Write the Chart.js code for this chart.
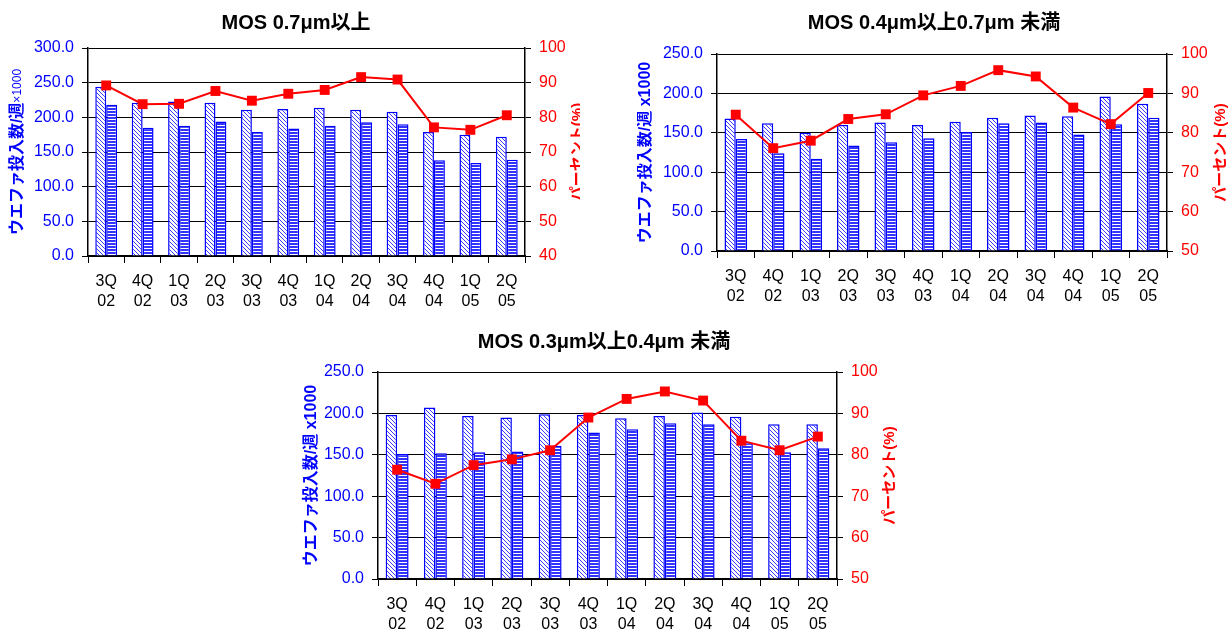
<!DOCTYPE html>
<html>
<head>
<meta charset="utf-8">
<script src="https://cdn.jsdelivr.net/npm/chart.js@4.4.1/dist/chart.umd.min.js"></script>
<style>
  body { margin: 0; background: #fff; }
  .box { position: absolute; overflow: hidden; }
  canvas { display: block; }
</style>
</head>
<body>
<div class="box" style="left:0;top:0;width:580px;height:310px"><canvas id="c07" width="592" height="310"></canvas></div>
<div class="box" style="left:637px;top:0;width:594px;height:310px"><canvas id="c04" width="594" height="310"></canvas></div>
<div class="box" style="left:300px;top:320px;width:608px;height:314px"><canvas id="c03" width="608" height="314"></canvas></div>
<script>
const quarters = [['3Q', '02'], ['4Q', '02'], ['1Q', '03'], ['2Q', '03'], ['3Q', '03'], ['4Q', '03'],
  ['1Q', '04'], ['2Q', '04'], ['3Q', '04'], ['4Q', '04'], ['1Q', '05'], ['2Q', '05']];

// MOS 0.7um and above
const capacity07 = [244, 221, 223, 221, 211, 212, 214, 211, 208, 179, 175, 172];
const starts07 = [218, 185, 188, 194, 179, 184, 188, 193, 190, 138, 134, 139];
const util07 = [89.2, 83.8, 83.9, 87.6, 84.8, 86.8, 87.9, 91.6, 90.9, 77.1, 76.4, 80.6];

// MOS 0.4um - 0.7um
const capacity04 = [168, 162, 150, 160, 163, 160, 164, 169, 172, 171, 196, 187];
const starts04 = [142, 124, 117, 134, 138, 143, 151, 162, 163, 148, 161, 169];
const util04 = [84.6, 76.1, 78.0, 83.5, 84.7, 89.5, 91.9, 95.9, 94.3, 86.4, 82.2, 90.1];

// MOS 0.3um - 0.4um
const capacity03 = [198, 207, 197, 195, 199, 198, 194, 197, 201, 196, 187, 187];
const starts03 = [151, 152, 153, 154, 161, 177, 181, 188, 187, 164, 153, 158];
const util03 = [76.4, 73.0, 77.5, 78.9, 81.1, 89.0, 93.5, 95.3, 93.1, 83.4, 81.1, 84.4];

const FONT = "'Liberation Sans', Arial, 'Noto Sans CJK JP', sans-serif";
const BLUE = '#0000ff';
const RED = '#ff0000';

function diagPattern() {
  const c = document.createElement('canvas');
  c.width = 4; c.height = 4;
  const g = c.getContext('2d');
  g.fillStyle = '#fff';
  g.fillRect(0, 0, 4, 4);
  g.strokeStyle = '#3c3cff';
  g.lineWidth = 1;
  g.beginPath();
  g.moveTo(-1, -1); g.lineTo(5, 5);
  g.moveTo(-1, 3); g.lineTo(1, 5);
  g.moveTo(3, -1); g.lineTo(5, 1);
  g.stroke();
  return g.createPattern(c, 'repeat');
}

function stripePattern() {
  const c = document.createElement('canvas');
  c.width = 4; c.height = 3;
  const g = c.getContext('2d');
  g.fillStyle = '#fff';
  g.fillRect(0, 0, 4, 3);
  g.fillStyle = '#3333ff';
  g.fillRect(0, 0, 4, 2);
  return g.createPattern(c, 'repeat');
}

// draws the rotated axis titles (both read bottom to top)
const axisTitles = {
  id: 'axisTitles',
  afterDraw(chart, args, opts) {
    const ctx = chart.ctx;
    const a = chart.chartArea;
    const yc = (a.top + a.bottom) / 2;
    const drawParts = (x, parts) => {
      ctx.save();
      ctx.translate(x, yc);
      ctx.rotate(-Math.PI / 2);
      ctx.textBaseline = 'middle';
      ctx.textAlign = 'left';
      let total = 0;
      parts.forEach(p => { ctx.font = p.font; total += ctx.measureText(p.text).width; });
      let px = -total / 2;
      parts.forEach(p => {
        ctx.font = p.font;
        ctx.fillStyle = p.color;
        ctx.fillText(p.text, px, 0);
        px += ctx.measureText(p.text).width;
      });
      ctx.restore();
    };
    drawParts(opts.leftX, opts.left);
    drawParts(opts.rightX, opts.right);
  }
};

function makeChart(id, cfg) {
  const ctx = document.getElementById(id).getContext('2d');
  return new Chart(ctx, {
    type: 'bar',
    data: {
      labels: quarters,
      datasets: [
        { type: 'line', data: cfg.util, yAxisID: 'y1', order: 0,
          borderColor: RED, borderWidth: 2, pointStyle: 'rect', pointRadius: 7,
          pointBackgroundColor: RED, pointBorderWidth: 0 },
        { data: cfg.capacity, yAxisID: 'y', order: 1, backgroundColor: diagPattern(),
          borderColor: BLUE, borderWidth: 1.5 },
        { data: cfg.starts, yAxisID: 'y', order: 1, backgroundColor: stripePattern(),
          borderColor: BLUE, borderWidth: 1.5 }
      ]
    },
    options: {
      responsive: false,
      animation: false,
      layout: { padding: 0 },
      datasets: { bar: { barPercentage: 1.0, categoryPercentage: 0.6 } },
      plugins: {
        legend: { display: false },
        tooltip: { enabled: false },
        title: {
          display: true, text: cfg.title, color: '#000',
          font: { family: FONT, size: 20, weight: 'bold', lineHeight: 1.2 },
          padding: cfg.titlePad
        },
        axisTitles: {
          leftX: cfg.leftX, rightX: cfg.rightX, left: cfg.leftTitle,
          right: [{ text: 'パーセント(%)', font: 'bold 15px ' + FONT, color: RED }]
        }
      },
      scales: {
        x: {
          afterFit: s => { s.height = cfg.xH; },
          grid: { drawOnChartArea: false, offset: true, tickLength: 7, color: '#000', lineWidth: 1 },
          border: { color: '#000', width: 1.5 },
          ticks: { color: '#000', padding: 9, maxRotation: 0, font: { family: FONT, size: 16, lineHeight: 1.25 } }
        },
        y: {
          position: 'left', min: 0, max: cfg.yMax,
          afterFit: s => { s.width = cfg.leftW; },
          grid: { color: '#000', lineWidth: 1, tickLength: 6 },
          border: { color: '#000', width: 1.5 },
          ticks: { stepSize: 50, color: BLUE, padding: 8, font: { family: FONT, size: 16 },
            callback: v => v.toFixed(1) }
        },
        y1: {
          position: 'right', min: cfg.pMin, max: 100,
          afterFit: s => { s.width = cfg.rightW; },
          grid: { drawOnChartArea: false, color: '#000', lineWidth: 1, tickLength: 6 },
          border: { color: '#000', width: 1.5 },
          ticks: { stepSize: 10, color: RED, padding: 8, font: { family: FONT, size: 16 } }
        }
      }
    },
    plugins: [axisTitles]
  });
}

const leftBold = 'bold 16px ' + FONT;

makeChart('c07', {
  title: 'MOS 0.7μm以上', titlePad: { top: 11, bottom: 13 },
  capacity: capacity07, starts: starts07, util: util07,
  yMax: 300, pMin: 40, leftW: 88, rightW: 67, xH: 54, leftX: 18, rightX: 578,
  leftTitle: [
    { text: 'ウエファ投入数/週', font: leftBold, color: BLUE },
    { text: '×1000', font: '12px ' + FONT, color: BLUE }
  ]
});

makeChart('c04', {
  title: 'MOS 0.4μm以上0.7μm 未満', titlePad: { top: 11, bottom: 19 },
  capacity: capacity04, starts: starts04, util: util04,
  yMax: 250, pMin: 50, leftW: 80, rightW: 64, xH: 59, leftX: 9, rightX: 584,
  leftTitle: [{ text: 'ウエファ投入数/週 x1000', font: leftBold, color: BLUE }]
});

makeChart('c03', {
  title: 'MOS 0.3μm以上0.4μm 未満', titlePad: { top: 10, bottom: 18 },
  capacity: capacity03, starts: starts03, util: util03,
  yMax: 250, pMin: 50, leftW: 78, rightW: 71, xH: 55, leftX: 12, rightX: 590,
  leftTitle: [{ text: 'ウエファ投入数/週 x1000', font: leftBold, color: BLUE }]
});
</script>
</body>
</html>
